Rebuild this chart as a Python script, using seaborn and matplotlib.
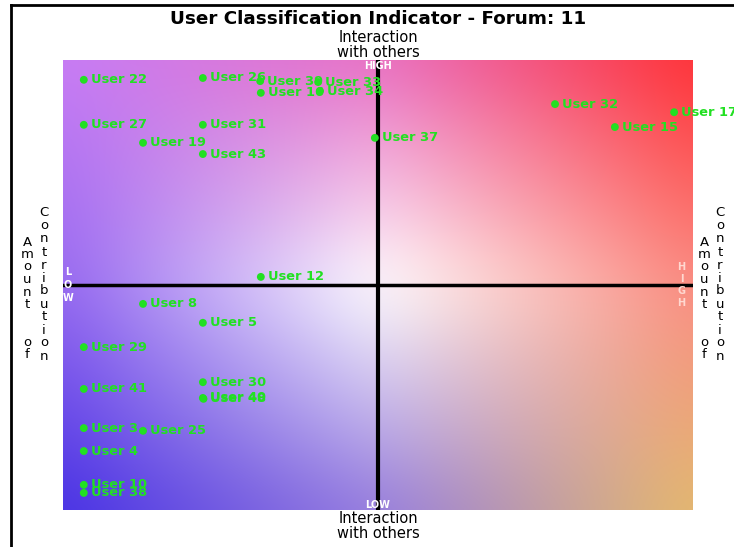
import numpy as np
import pandas as pd
import matplotlib
matplotlib.use("Agg")
import matplotlib.pyplot as plt
import seaborn as sns
from matplotlib.lines import Line2D

# ─── Data (contribution 0-100 left→right, interaction 0-100 bottom→top) ──────
users = ["User 22", "User 26", "User 39", "User 33", "User 16", "User 34",
         "User 37", "User 27", "User 31", "User 19", "User 43",
         "User 32", "User 17", "User 15", "User 12", "User 8", "User 5",
         "User 29", "User 41", "User 30", "User 40", "User 48", "User 3",
         "User 25", "User 4", "User 10", "User 38"]
contribution = [3.3, 22.2, 31.3, 40.5, 31.4, 40.8,
                49.5, 3.3, 22.2, 12.7, 22.2,
                78.1, 97.0, 87.6, 31.4, 12.7, 22.2,
                3.3, 3.3, 22.2, 22.2, 22.3, 3.3,
                12.7, 3.3, 3.3, 3.3]
interaction = [95.6, 96.0, 95.3, 95.1, 92.7, 93.1,
               82.7, 85.6, 85.6, 81.6, 79.1,
               90.2, 88.4, 85.1, 51.8, 45.8, 41.6,
               36.2, 26.9, 28.4, 24.9, 24.7, 18.2,
               17.6, 13.1, 5.6, 3.8]

df = pd.DataFrame({"user": users, "contribution": contribution,
                   "interaction": interaction})

TITLE = "User Classification Indicator - Forum: 11"
GREEN = "#22e022"

# background colour grid (rows: top, middle, bottom / cols: left, middle, right)
grid_rgb = np.array([
    [[200, 125, 245], [232, 112, 195], [255, 50, 55]],
    [[150, 105, 240], [255, 255, 255], [250, 140, 130]],
    [[72, 50, 228], [150, 125, 222], [228, 185, 110]],
]) / 255

# ─── Figure ──────────────────────────────────────────────────────────────────
W, H = 734, 547
fig = plt.figure(figsize=(W / 100, H / 100), dpi=100)
ax = fig.add_axes([63 / W, (H - 510) / H, 630 / W, 450 / H])

# smooth gradient: bilinear from the 3x3 grid, then a box blur
nx, ny, pad = 320, 240, 40
gx = np.linspace(0, 2, nx + 2 * pad)
gy = np.linspace(0, 2, ny + 2 * pad)
gx = np.clip((gx - gx[pad]) / (gx[-pad - 1] - gx[pad]) * 2, 0, 2)
gy = np.clip((gy - gy[pad]) / (gy[-pad - 1] - gy[pad]) * 2, 0, 2)
img = np.zeros((len(gy), len(gx), 3))
for c in range(3):
    rows = np.array([np.interp(gx, [0, 1, 2], grid_rgb[r, :, c]) for r in range(3)])
    for j in range(len(gx)):
        img[:, j, c] = np.interp(gy, [0, 1, 2], rows[:, j])
k = np.ones(31) / 31
for _ in range(2):
    img = np.apply_along_axis(lambda s: np.convolve(s, k, mode="same"), 0, img)
    img = np.apply_along_axis(lambda s: np.convolve(s, k, mode="same"), 1, img)
img = img[pad:-pad, pad:-pad]
ax.imshow(np.clip(img, 0, 1), extent=[0, 100, 0, 100], origin="upper",
          aspect="auto", zorder=0, interpolation="bilinear")

ax.axvline(50, color="black", lw=3, zorder=1)
ax.axhline(50, color="black", lw=2.5, zorder=1)

sns.scatterplot(data=df, x="contribution", y="interaction", color=GREEN,
                s=32, edgecolor="none", ax=ax, zorder=3, clip_on=False)
for _, row in df.iterrows():
    ax.annotate(row["user"], (row["contribution"], row["interaction"]),
                xytext=(5, 0), textcoords="offset points", va="center",
                ha="left", color=GREEN, fontsize=9.4, fontweight="bold",
                family="DejaVu Sans", zorder=4, annotation_clip=False)

ax.set_xlim(0, 100)
ax.set_ylim(0, 100)
ax.set_xticks([])
ax.set_yticks([])
ax.set_xlabel("")
ax.set_ylabel("")
for sp in ax.spines.values():
    sp.set_visible(False)

# HIGH / LOW markers inside the plot
lowhigh = dict(color="white", fontsize=7, fontweight="bold",
               family="DejaVu Sans", ha="center", va="center", zorder=5)
ax.text(50, 98.6, "HIGH", **lowhigh)
ax.text(50, 1.2, "LOW", **lowhigh)
for i, ch in enumerate("LOW"):
    ax.text(0.8, 50 + (1 - i) * 2.9, ch, **lowhigh)
for i, ch in enumerate("HIGH"):
    ax.text(98.2, 50 + (1.5 - i) * 2.7, ch, color="#ffd8d0", fontsize=7,
            fontweight="bold", family="DejaVu Sans", ha="center",
            va="center", zorder=5)

# titles
fig.text(378 / W, 1 - 19 / H, TITLE, ha="center", va="center",
         fontsize=13.2, fontweight="bold", family="DejaVu Sans")
axis_txt = dict(ha="center", va="center", fontsize=10.5,
                family="DejaVu Sans", linespacing=0.95)
fig.text(378 / W, 1 - 45 / H, "Interaction\nwith others", **axis_txt)
fig.text(378 / W, 1 - 526 / H, "Interaction\nwith others", **axis_txt)

# vertical stacked "Amount of Contribution"
def stacked(x, y_top, word, step=12.5):
    for i, ch in enumerate(word):
        if ch == " ":
            continue
        fig.text(x / W, 1 - (y_top + i * step) / H, ch, ha="center",
                 va="center", fontsize=9.5, family="DejaVu Sans")

for x0 in (27, 704):
    stacked(x0, 242, "Amount  of")
for x0 in (44, 720):
    stacked(x0, 213, "Contribution", step=13)

# figure frame (left and top edges)
fig.add_artist(Line2D([11 / W, 11 / W], [0, 1 - 5 / H], color="black",
                      lw=2, transform=fig.transFigure))
fig.add_artist(Line2D([11 / W, 1], [1 - 5 / H, 1 - 5 / H], color="black",
                      lw=2, transform=fig.transFigure))

fig.savefig("out.png", dpi=100)
